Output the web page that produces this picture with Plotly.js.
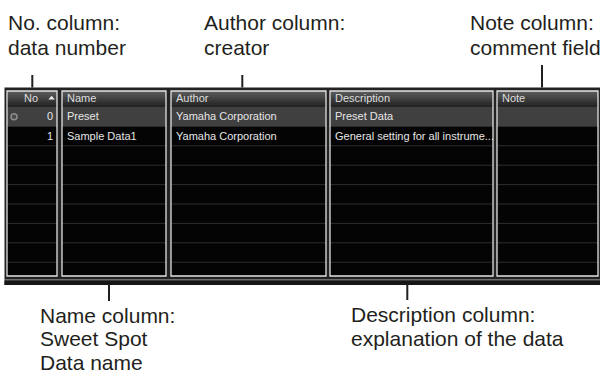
<!DOCTYPE html>
<html><head><meta charset="utf-8">
<script src="https://cdn.plot.ly/plotly-3.0.1.min.js"></script>
<style>html,body{margin:0;padding:0;background:#fff}#chart{width:600px;height:374px}</style>
</head><body><div id="chart"></div>
<script>
// ---- data ----
const columnHeaders = ['No', 'Name', 'Author', 'Description', 'Note'];
const rowNo = ['0', '1'];
const rowName = ['Preset', 'Sample Data1'];
const rowAuthor = ['Yamaha Corporation', 'Yamaha Corporation'];
const rowDescription = ['Preset Data', 'General setting for all instrume...'];
const rowNote = ['', ''];
const selectedRow = 0;
const topCallouts = [['No. column:', 'data number'], ['Author column:', 'creator'], ['Note column:', 'comment field']];
const bottomCallouts = [['Name column:', 'Sweet Spot', 'Data name'], ['Description column:', 'explanation of the data']];

// ---- layout constants ----
const colLeft = [7, 62, 171, 330, 497];
const colRight = [57, 166, 326, 493, 598];
const T = {left: 4.5, right: 600, top: 87.5, bottom: 285, boxTop: 91, boxBottom: 276, headBottom: 107, rowH: 19.4, rows: 9};
const ink = '#231f20';
const uiFont = {family: 'Liberation Sans, Arial, sans-serif', size: 11, color: '#e6e6e6'};
const callFont = {family: 'Liberation Sans, Arial, Helvetica, sans-serif', size: 21, color: ink};

const shapes = [];
function rect(x0, y0, x1, y1, fill, lineColor, lw) {
  return {type: 'rect', xref: 'x', yref: 'y', x0, y0, x1, y1, fillcolor: fill || 'rgba(0,0,0,0)',
          line: {color: lineColor || 'rgba(0,0,0,0)', width: lw || 0}, layer: 'above'};
}
function seg(x0, y0, x1, y1, color, w) {
  return {type: 'line', xref: 'x', yref: 'y', x0, y0, x1, y1, line: {color, width: w}, layer: 'above'};
}
function hex(v) { const h = Math.round(v).toString(16).padStart(2, '0'); return '#' + h + h + h; }

shapes.push(rect(T.left, T.top, T.right, T.bottom, '#222222'));
for (let i = 0; i < columnHeaders.length; i++) {
  const x0 = colLeft[i], x1 = colRight[i];
  shapes.push(rect(x0, T.boxTop, x1, T.boxBottom, '#040404'));
  const n = 8, hh = (T.headBottom - T.boxTop) / n;
  for (let s = 0; s < n; s++) {
    shapes.push(rect(x0, T.boxTop + s * hh, x1, T.boxTop + (s + 1) * hh + 0.3, hex(0x5a - (0x5a - 0x24) * s / (n - 1))));
  }
  const selTop = T.headBottom + selectedRow * T.rowH;
  shapes.push(rect(x0, selTop, x1, selTop + T.rowH, '#404040'));
  for (let k = 1; k < T.rows; k++) {
    const y = T.headBottom + k * T.rowH;
    shapes.push(seg(x0, y, x1, y, '#2e2e2e', 1));
  }
  shapes.push(rect(x0, T.boxTop, x1, T.boxBottom, null, '#e2e2e2', 1.3));
}
shapes.push(rect(T.left, 280.5, T.right, T.bottom, '#161616'));
shapes.push(seg(T.left, 279.8, T.right, 279.8, '#8d8d8d', 1));

// row selection icon and sort triangle
const iconY = T.headBottom + (selectedRow + 0.5) * T.rowH;
shapes.push({type: 'circle', xref: 'x', yref: 'y', x0: 11, x1: 17, y0: iconY - 3, y1: iconY + 3,
             fillcolor: '#4a4a4a', line: {color: '#8e8e8e', width: 1.5}, layer: 'above'});
shapes.push({type: 'path', xref: 'x', yref: 'y', path: 'M48.3,99.5 L51.6,95.8 L54.9,99.5 Z',
             fillcolor: '#e6e6e6', line: {width: 0}, layer: 'above'});

const annotations = [];
function txt(x, y, text, font, xanchor) {
  annotations.push({x, y, xref: 'x', yref: 'y', text, showarrow: false, xanchor: xanchor || 'left',
                    yanchor: 'middle', borderpad: 0, font});
}
// header
const headY = 97.9;
columnHeaders.forEach((h, i) => {
  if (i === 0) txt(39, headY, h, Object.assign({}, uiFont, {color: '#dedede'}), 'right');
  else txt(colLeft[i] + 4, headY, h, Object.assign({}, uiFont, {color: '#dedede'}), 'left');
});
// cells
const cellColumns = [rowNo, rowName, rowAuthor, rowDescription, rowNote];
cellColumns.forEach((col, i) => {
  col.forEach((v, r) => {
    if (!v) return;
    const y = T.headBottom + (r + 0.5) * T.rowH - 0.5;
    if (i === 0) txt(53.8, y, v, uiFont, 'right');
    else txt(colLeft[i] + 4, y, v, uiFont, 'left');
  });
});

// callouts
const topPos = [{x: 7, lx: 32.3, ly0: 75}, {x: 202.5, lx: 242.3, ly0: 75}, {x: 468.5, lx: 542, ly0: 65}];
topCallouts.forEach((lines, i) => {
  lines.forEach((l, j) => txt(topPos[i].x, 22.7 + j * 24.5, l, callFont, 'left'));
  shapes.push(seg(topPos[i].lx, topPos[i].ly0, topPos[i].lx, T.top, ink, 2));
});
const botPos = [{x: 38.5, lx: 109, ly1: 301, y: 315, gap: 23.6}, {x: 349.5, lx: 407.3, ly1: 300, y: 314.4, gap: 24.2}];
bottomCallouts.forEach((lines, i) => {
  lines.forEach((l, j) => txt(botPos[i].x, botPos[i].y + j * botPos[i].gap, l, callFont, 'left'));
  shapes.push(seg(botPos[i].lx, T.bottom - 1, botPos[i].lx, botPos[i].ly1, ink, 2));
});

const layout = {
  width: 600, height: 374, margin: {l: 0, r: 0, t: 0, b: 0},
  paper_bgcolor: '#ffffff', plot_bgcolor: '#ffffff', showlegend: false,
  xaxis: {range: [0, 600], visible: false, fixedrange: true},
  yaxis: {range: [374, 0], visible: false, fixedrange: true},
  shapes, annotations
};
Plotly.newPlot('chart', [{type: 'scatter', x: [], y: [], hoverinfo: 'skip'}], layout, {staticPlot: true, displayModeBar: false});
</script>
</body></html>
